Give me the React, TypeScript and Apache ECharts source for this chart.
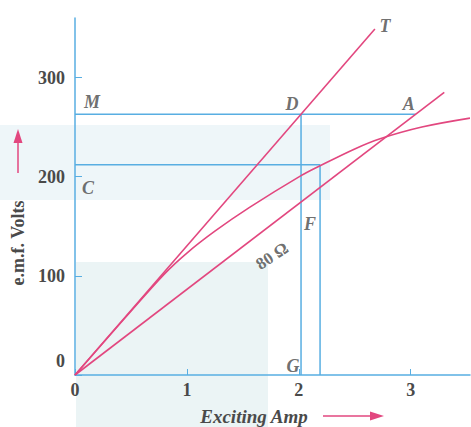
import React, { useEffect, useRef } from "react";
import * as echarts from "echarts";

// ---- data ----
const xTicks = [0, 1, 2, 3];
const yTicks = [0, 100, 200, 300];
const xMax = 3.53;
const yMax = 360;

// air-gap line O-T
const lineOT: number[][] = [[0, 0], [2.68, 349]];
// open circuit characteristic (curve)
const occCurve: number[][] = [
  [0, 0], [0.45, 58], [0.8, 102], [1.0, 123], [1.25, 145], [1.56, 169], [2.02, 201],
  [2.19, 211], [2.5, 228], [2.72, 238], [3.1, 250], [3.53, 259],
];
// field resistance line (80 ohm)
const line80: number[][] = [[0, 0], [3.3, 285]];
// construction lines
const lineMDA: number[][] = [[0, 263], [3.045, 263]];
const lineDG: number[][] = [[2.02, 0], [2.02, 263]];
const lineC: number[][] = [[0, 212], [2.19, 212]];
const lineF: number[][] = [[2.19, 0], [2.19, 212]];

const pointNames = ["T", "M", "D", "A", "C", "F", "G", "80 Ω"];
const pointAt: number[][] = [
  [2.68, 349], [0, 263], [2.02, 263], [3.045, 263], [0, 212], [2.19, 212], [2.02, 0], [1.625, 140],
];

const PINK = "#e2477f";
const BLUE = "#58aee2";
const TEXT = "#4a4a4a";
const SERIF = "'Liberation Serif', 'DejaVu Serif', serif";

const labelOffsets: Record<string, number[]> = {
  T: [10, -3], M: [17, -12], D: [-9, -10], A: [-7, -10], C: [13, 23], F: [-10, 59], G: [-8, -9], "80 Ω": [2, 25],
};

export default function App() {
  const ref = useRef<HTMLDivElement>(null);
  useEffect(() => {
    if (!ref.current) return;
    const chart = echarts.init(ref.current, undefined, { renderer: "svg" });
    const lineSeries = (data: number[][], color: string, width: number, smooth: number | boolean = false) => ({
      type: "line",
      data,
      smooth,
      showSymbol: false,
      symbol: "none",
      lineStyle: { color, width },
      silent: true,
      z: color === PINK ? 4 : 3,
    });
    chart.setOption({
      animation: false,
      backgroundColor: "#ffffff",
      grid: { left: 75, right: 1, top: 18, bottom: 52, containLabel: false },
      xAxis: {
        type: "value",
        min: 0,
        max: xMax,
        splitLine: { show: false },
        axisLine: { show: true, lineStyle: { color: BLUE, width: 1.5 } },
        axisTick: { show: true, inside: true, length: 6, lineStyle: { color: BLUE }, customValues: xTicks },
        axisLabel: {
          customValues: xTicks,
          margin: 6,
          color: TEXT,
          fontFamily: SERIF,
          fontWeight: "bold",
          fontSize: 18,
          formatter: (v: number) => String(v),
        },
      },
      yAxis: {
        type: "value",
        min: 0,
        max: yMax,
        splitLine: { show: false },
        axisLine: { show: true, lineStyle: { color: BLUE, width: 1.5 } },
        axisTick: { show: true, inside: true, length: 7, lineStyle: { color: BLUE }, customValues: yTicks },
        axisLabel: {
          customValues: yTicks,
          margin: 10,
          color: TEXT,
          fontFamily: SERIF,
          fontWeight: "bold",
          fontSize: 18,
          formatter: (v: number) => (v === 0 ? "{z|0}" : String(v)),
          rich: {
            z: { padding: [0, 0, 28, 0], color: TEXT, fontFamily: SERIF, fontWeight: "bold", fontSize: 18 },
          },
        },
      },
      graphic: [
        { type: "rect", z: -10, shape: { x: 0, y: 125, width: 330, height: 75 }, style: { fill: "#eef6f9" } },
        { type: "rect", z: -10, shape: { x: 76, y: 262, width: 192, height: 165 }, style: { fill: "#ebf4f5" } },
        {
          type: "text",
          x: 18,
          y: 243,
          rotation: Math.PI / 2,
          style: {
            text: "e.m.f. Volts",
            fill: TEXT,
            font: `bold 18px ${SERIF}`,
            align: "center",
            verticalAlign: "middle",
          },
        },
        { type: "line", shape: { x1: 18, y1: 173, x2: 18, y2: 140 }, style: { stroke: PINK, lineWidth: 1.5 } },
        { type: "polygon", shape: { points: [[18, 129], [13.5, 143], [22.5, 143]] }, style: { fill: PINK } },
        {
          type: "text",
          x: 254,
          y: 416,
          style: {
            text: "Exciting Amp",
            fill: TEXT,
            font: `italic bold 19px ${SERIF}`,
            align: "center",
            verticalAlign: "middle",
          },
        },
        { type: "line", shape: { x1: 323, y1: 416, x2: 372, y2: 416 }, style: { stroke: PINK, lineWidth: 1.5 } },
        { type: "polygon", shape: { points: [[384, 416], [370, 411.5], [370, 420.5]] }, style: { fill: PINK } },
      ],
      series: [
        lineSeries(lineMDA, BLUE, 1.5),
        lineSeries(lineDG, BLUE, 1.5),
        lineSeries(lineC, BLUE, 1.5),
        lineSeries(lineF, BLUE, 1.5),
        lineSeries(lineOT, PINK, 1.6),
        lineSeries(occCurve, PINK, 1.6, 0.35),
        lineSeries(line80, PINK, 1.6),
        {
          type: "scatter",
          symbolSize: 0,
          silent: true,
          z: 6,
          data: pointNames.map((name, i) => ({
            value: pointAt[i],
            label: {
              show: true,
              position: "inside",
              formatter: name,
              offset: labelOffsets[name],
              rotate: name === "80 Ω" ? 33 : 0,
              color: TEXT,
              fontFamily: SERIF,
              fontStyle: name === "80 Ω" ? "normal" : "italic",
              fontWeight: "bold",
              fontSize: name === "80 Ω" ? 17 : 18,
            },
          })),
        },
      ],
    });
    return () => chart.dispose();
  }, []);
  return (
    <div
      ref={ref}
      style={{ position: "fixed", left: 0, top: 0, width: 471, height: 427, background: "#fff" }}
    />
  );
}
